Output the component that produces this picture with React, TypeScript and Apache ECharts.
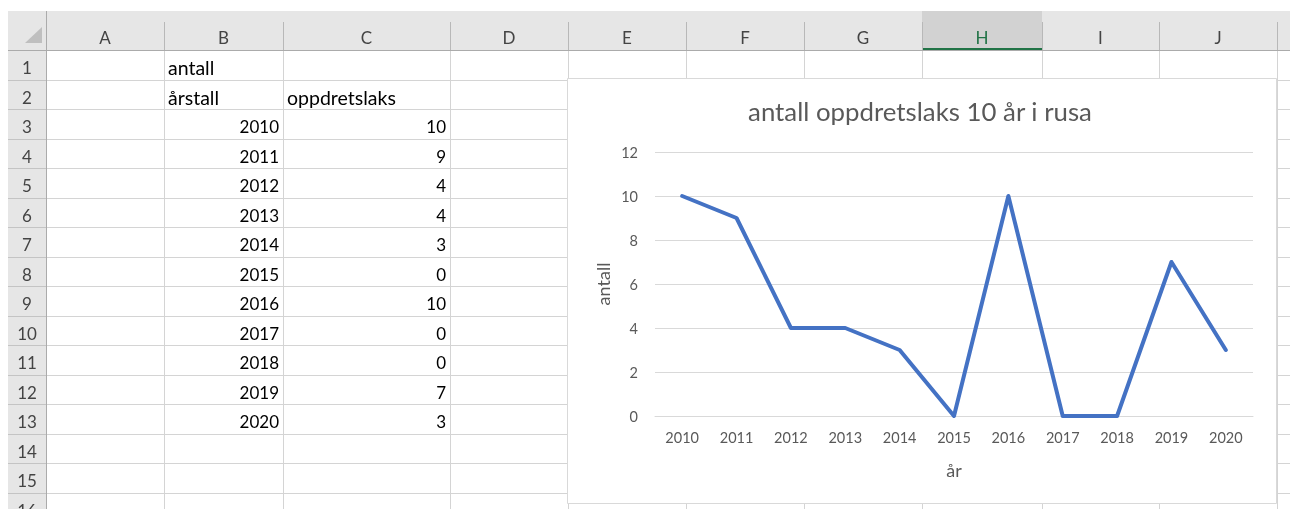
import React, { useEffect, useRef } from "react";
import * as echarts from "echarts";

// ---- data ----
const years: string[] = ["2010", "2011", "2012", "2013", "2014", "2015", "2016", "2017", "2018", "2019", "2020"];
const counts: number[] = [10, 9, 4, 4, 3, 0, 10, 0, 0, 7, 3];
const columnLetters: string[] = ["A", "B", "C", "D", "E", "F", "G", "H", "I", "J", ""];
const chartTitle = "antall oppdretslaks 10 år i rusa";
const headerB1 = "antall";
const headerB2 = "årstall";
const headerC2 = "oppdretslaks";
const yAxisName = "antall";
const xAxisName = "år";
const yMin = 0;
const yMax = 12;
const yInterval = 2;

// ---- layout ----
const W = 1290;
const H = 509;
const colEdges = [46, 164, 283, 450, 568, 686, 804, 922, 1042, 1159, 1277, 1400];
const headerTop = 11;
const headerBottom = 50;
const rowH = 29.5;
const rowCount = 16;
const rowTop = (r: number) => headerBottom + (r - 1) * rowH;
const numFont = "17px Lato";
const textFont = "19.5px Lato";
const selectedCol = 7; // H

function buildSheet(): any[] {
  const els: any[] = [];
  const z = 1;
  els.push({ type: "rect", z, silent: true, shape: { x: 0, y: 0, width: W, height: H }, style: { fill: "#ffffff" } });
  // header backgrounds
  els.push({ type: "rect", z, silent: true, shape: { x: 8, y: headerTop, width: W - 8, height: headerBottom - headerTop }, style: { fill: "#E6E6E6" } });
  els.push({ type: "rect", z, silent: true, shape: { x: 8, y: headerBottom, width: 46 - 8, height: H - headerBottom }, style: { fill: "#E6E6E6" } });
  // selected column header
  els.push({ type: "rect", z, silent: true, shape: { x: colEdges[selectedCol], y: headerTop, width: colEdges[selectedCol + 1] - colEdges[selectedCol], height: headerBottom - headerTop }, style: { fill: "#D2D2D2" } });
  els.push({ type: "rect", z, silent: true, shape: { x: colEdges[selectedCol], y: headerBottom - 2, width: colEdges[selectedCol + 1] - colEdges[selectedCol], height: 2 }, style: { fill: "#217346" } });
  // cell grid
  for (let i = 0; i < colEdges.length; i++) {
    const x = colEdges[i] + 0.5;
    els.push({ type: "line", z, silent: true, shape: { x1: x, y1: headerBottom, x2: x, y2: H }, style: { stroke: "#D4D4D4", lineWidth: 1 } });
    els.push({ type: "line", z, silent: true, shape: { x1: x, y1: headerTop + 11, x2: x, y2: headerBottom }, style: { stroke: "#B8B8B8", lineWidth: 1 } });
  }
  for (let r = 1; r <= rowCount + 1; r++) {
    const y = Math.round(rowTop(r)) + 0.5;
    els.push({ type: "line", z, silent: true, shape: { x1: 46, y1: y, x2: W, y2: y }, style: { stroke: "#D4D4D4", lineWidth: 1 } });
    els.push({ type: "line", z, silent: true, shape: { x1: 8, y1: y, x2: 46, y2: y }, style: { stroke: "#C4C4C4", lineWidth: 1 } });
  }
  els.push({ type: "line", z, silent: true, shape: { x1: 8, y1: headerBottom + 0.5, x2: W, y2: headerBottom + 0.5 }, style: { stroke: "#ABABAB", lineWidth: 1 } });
  els.push({ type: "line", z, silent: true, shape: { x1: 46.5, y1: headerTop, x2: 46.5, y2: H }, style: { stroke: "#ABABAB", lineWidth: 1 } });
  // corner triangle
  els.push({ type: "polygon", z, silent: true, shape: { points: [[25, 43], [42, 43], [42, 27]] }, style: { fill: "#BFBFBF" } });
  // column letters
  for (let i = 0; i < columnLetters.length; i++) {
    if (!columnLetters[i]) continue;
    const cx = (colEdges[i] + colEdges[i + 1]) / 2;
    els.push({
      type: "text", z: 2, silent: true,
      style: { text: columnLetters[i], x: cx, y: 37, font: numFont, fill: i === selectedCol ? "#217346" : "#444444", align: "center", textAlign: "center", verticalAlign: "middle", textVerticalAlign: "middle" },
    });
  }
  // row numbers
  for (let r = 1; r <= rowCount; r++) {
    els.push({
      type: "text", z: 2, silent: true,
      style: { text: String(r), x: 27, y: rowTop(r) + rowH / 2 + 3, font: numFont, fill: "#444444", align: "center", textAlign: "center", verticalAlign: "middle", textVerticalAlign: "middle" },
    });
  }
  const cellText = (text: string, col: number, row: number, alignRight: boolean) => {
    const x = alignRight ? colEdges[col + 1] - 4 : colEdges[col] + 4;
    els.push({
      type: "text", z: 2, silent: true,
      style: { text, x, y: rowTop(row) + rowH / 2 + 3, font: alignRight ? numFont : textFont, fill: "#000000", align: alignRight ? "right" : "left", textAlign: alignRight ? "right" : "left", verticalAlign: "middle", textVerticalAlign: "middle" },
    });
  };
  cellText(headerB1, 1, 1, false);
  cellText(headerB2, 1, 2, false);
  cellText(headerC2, 2, 2, false);
  years.forEach((y, i) => {
    cellText(y, 1, 3 + i, true);
    cellText(String(counts[i]), 2, 3 + i, true);
  });
  // chart area
  els.push({ type: "rect", z: 3, silent: true, shape: { x: 567.5, y: 78.5, width: 709, height: 425 }, style: { fill: "#ffffff", stroke: "#D9D9D9", lineWidth: 1 } });
  return els;
}

export default function App() {
  const ref = useRef<HTMLDivElement>(null);
  useEffect(() => {
    if (!ref.current) return;
    const chart = echarts.init(ref.current, undefined, { renderer: "svg", width: W, height: H });
    const axisText = { color: "#595959", fontFamily: "Lato", fontSize: 14.5 };
    chart.setOption({
      animation: false,
      backgroundColor: "transparent",
      graphic: { elements: buildSheet() },
      title: {
        text: chartTitle,
        left: 920,
        top: 98,
        textAlign: "center",
        padding: 0,
        z: 10,
        textStyle: { color: "#595959", fontFamily: "Lato", fontSize: 25.8, fontWeight: "normal" },
      },
      grid: { left: 655, right: 37, top: 152, bottom: 93, containLabel: false },
      xAxis: {
        type: "category",
        data: years,
        boundaryGap: true,
        z: 10,
        axisLine: { show: true, lineStyle: { color: "#D9D9D9", width: 1 } },
        axisTick: { show: false },
        axisLabel: { ...axisText, margin: 14 },
        splitLine: { show: false },
        name: xAxisName,
        nameLocation: "middle",
        nameGap: 45,
        nameTextStyle: { color: "#595959", fontFamily: "Lato", fontSize: 18 },
      },
      yAxis: {
        type: "value",
        min: yMin,
        max: yMax,
        interval: yInterval,
        z: 10,
        axisLine: { show: false },
        axisTick: { show: false },
        axisLabel: { ...axisText, margin: 17 },
        splitLine: { show: true, lineStyle: { color: "#D9D9D9", width: 1 } },
        name: yAxisName,
        nameLocation: "middle",
        nameRotate: 90,
        nameGap: 43,
        nameTextStyle: { color: "#595959", fontFamily: "Lato", fontSize: 18 },
      },
      series: [
        {
          type: "line",
          data: counts,
          z: 12,
          symbol: "none",
          lineStyle: { color: "#4472C4", width: 4, join: "round", cap: "round" },
          itemStyle: { color: "#4472C4" },
        },
      ],
    });
    return () => chart.dispose();
  }, []);
  return <div ref={ref} style={{ position: "fixed", left: 0, top: 0, width: W, height: H }} />;
}
